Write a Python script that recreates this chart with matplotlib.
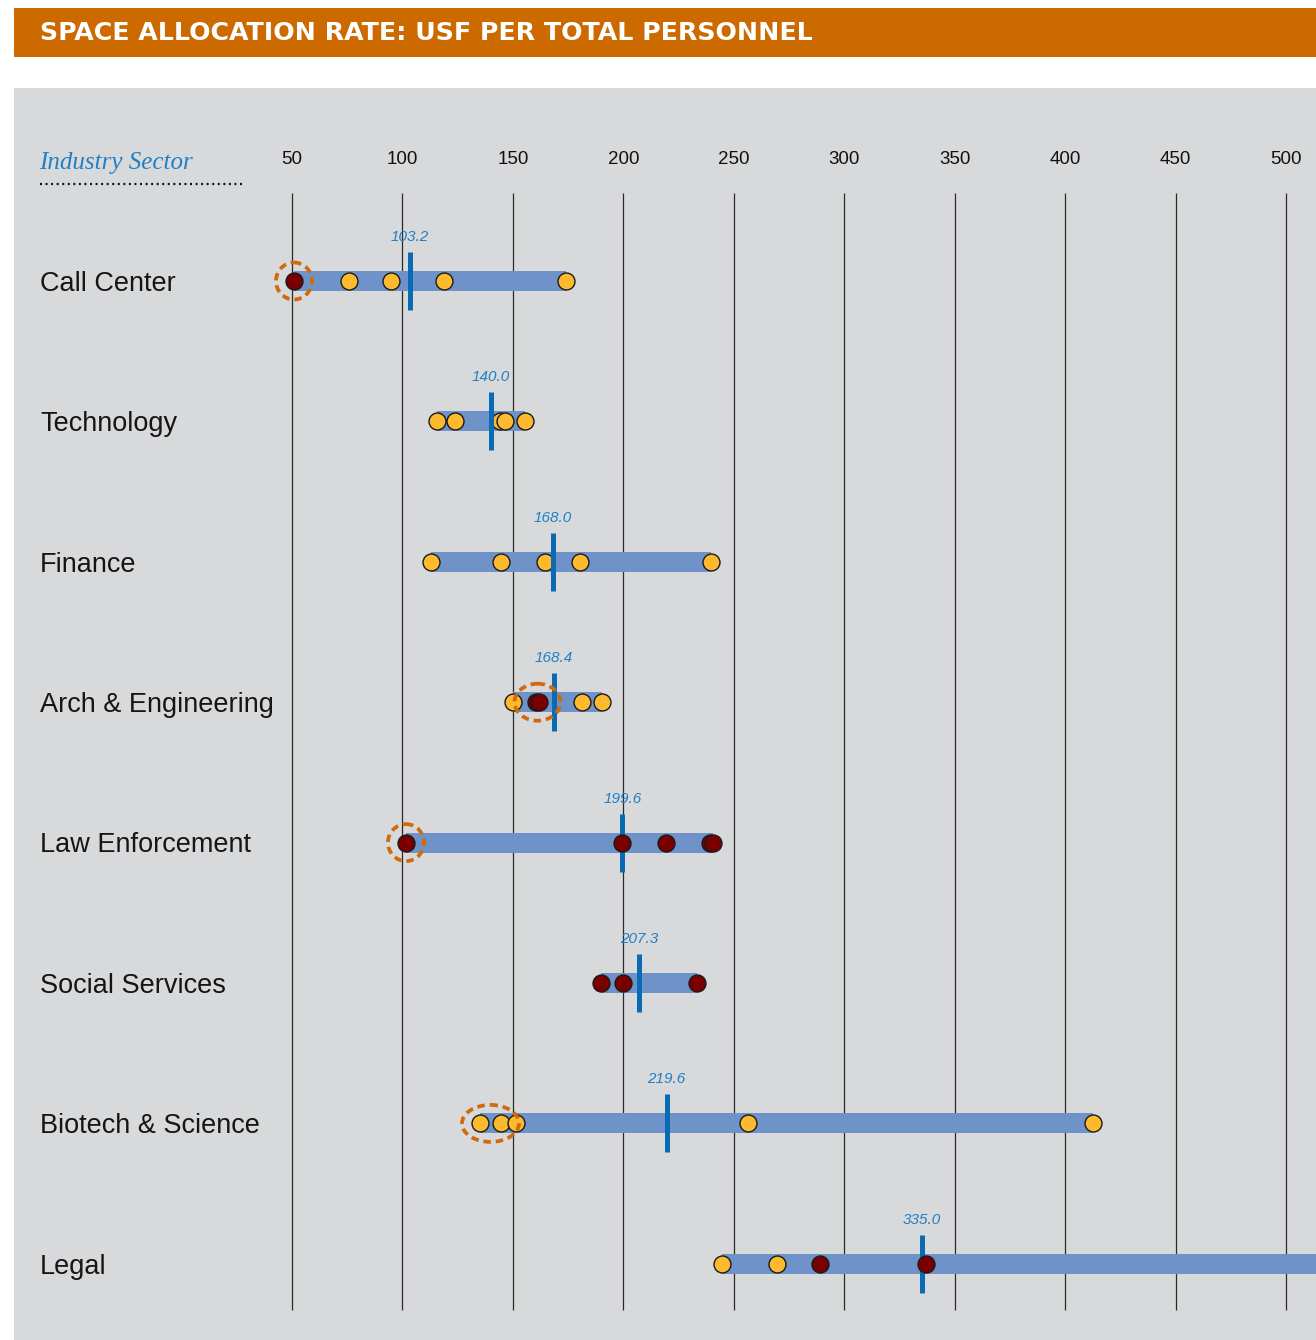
import matplotlib
matplotlib.use("Agg")
import matplotlib.pyplot as plt
import matplotlib.transforms as mtransforms
from matplotlib.patches import Rectangle, Ellipse
from matplotlib.lines import Line2D

# ---- data -------------------------------------------------------------
sectors = ["Call Center", "Technology", "Finance", "Arch & Engineering",
           "Law Enforcement", "Social Services", "Biotech & Science", "Legal"]
medians = [103.2, 140.0, 168.0, 168.4, 199.6, 207.3, 219.6, 335.0]

range_low = [50.9, 115.5, 112.8, 149.9, 101.6, 189.7, 135.1, 244.5]
range_high = [174.0, 155.5, 239.5, 190.2, 240.5, 233.5, 412.6, 560.0]

gold_values = [
    [75.8, 94.8, 118.8, 174.0],
    [115.5, 123.8, 144.2, 146.4, 155.5],
    [112.8, 144.6, 164.5, 180.4, 239.5],
    [149.9, 181.1, 190.2],
    [],
    [],
    [135.1, 144.6, 151.3, 256.3, 412.6],
    [244.5, 269.7],
]
maroon_values = [
    [50.9],
    [],
    [],
    [160.3, 162.0],
    [101.6, 199.5, 219.3, 239.2, 240.5],
    [189.7, 200.0, 233.5],
    [],
    [288.9, 337.0],
]
# groups of outliers ringed with a dashed outline: (row, low value, high value)
ringed = [(0, 50.9, 50.9), (3, 160.3, 162.0), (4, 101.6, 101.6), (6, 135.1, 144.6)]

ticks = [50, 100, 150, 200, 250, 300, 350, 400, 450, 500]

# ---- styling ------------------------------------------------------------
W, H = 1316, 1340
DPI = 100
panel_grey = "#d8d9db"
header_orange = "#cc6a00"
bar_blue = "#6f92c9"
median_blue = "#0a6bb5"
label_blue = "#1f80c6"
gold = "#fdba2e"
maroon = "#7a0000"
ring_orange = "#d06a0c"

fig = plt.figure(figsize=(W / DPI, H / DPI), dpi=DPI)
fig.patch.set_facecolor("white")

# header band
fig.patches.append(Rectangle((14 / W, 1 - 57 / H), (W - 14) / W, 49 / H,
                             transform=fig.transFigure, facecolor=header_orange,
                             edgecolor="none", zorder=0))
fig.text(40 / W, 1 - 33 / H, "SPACE ALLOCATION RATE: USF PER TOTAL PERSONNEL",
         color="white", fontsize=18.2, fontweight="bold", family="DejaVu Sans",
         va="center", ha="left")

# main panel
panel_top, panel_bottom = 88, H
ax = fig.add_axes([14 / W, 0, (W - 14) / W, (panel_bottom - panel_top) / H])
ax.set_facecolor(panel_grey)
for s in ax.spines.values():
    s.set_visible(False)
ax.set_xticks([])
ax.set_yticks([])

px_per_unit = (1286 - 292) / 450.0
x_left = 50 - (292 - 14) / px_per_unit
x_right = 50 + (W - 292) / px_per_unit
row0, row_step = 281.0, 140.4
ax.set_xlim(x_left, x_right)
ax.set_ylim((panel_bottom - row0) / row_step, (panel_top - row0) / row_step)


def px_to_row(py):
    return (py - row0) / row_step


def px_x(px):
    return (px - 14) / (W - 14)


lab_tr = mtransforms.blended_transform_factory(ax.transAxes, ax.transData)

# vertical gridlines and scale labels
ax.vlines(ticks, px_to_row(193), px_to_row(1310), color="#2a2a2a", lw=0.9, zorder=1)
for t in ticks:
    ax.text(t, px_to_row(159), str(t), ha="center", va="center", fontsize=13.5,
            family="Liberation Sans", color="#111111")

# column heading
ax.text(px_x(39), px_to_row(163), "Industry Sector", transform=lab_tr,
        fontsize=18, style="italic", family="Liberation Serif", color=label_blue,
        ha="left", va="center")
ax.add_line(Line2D([px_x(40), px_x(243)], [px_to_row(184)] * 2, transform=lab_tr,
                   color="#111111", lw=1.6, linestyle=(0, (0.9, 1.6))))

for i, name in enumerate(sectors):
    ax.text(px_x(40), i + 0.02, name, transform=lab_tr, fontsize=19.5,
            family="Liberation Sans", color="#151515", ha="left", va="center")

half_median = 29 / row_step
for i in range(len(sectors)):
    # range bar
    ax.plot([range_low[i], range_high[i]], [i, i], color=bar_blue, lw=14.4,
            solid_capstyle="butt", zorder=2)
    # gold observations
    if gold_values[i]:
        ax.plot(gold_values[i], [i] * len(gold_values[i]), "o", ms=12.2,
                mfc=gold, mec="#1a1a1a", mew=1.0, zorder=3)
    # median tick and value
    ax.plot([medians[i], medians[i]], [i - half_median, i + half_median],
            color=median_blue, lw=3.6, solid_capstyle="butt", zorder=4)
    ax.text(medians[i], i - 44 / row_step, f"{medians[i]:.1f}", ha="center",
            va="center", fontsize=11, style="italic", family="Liberation Sans",
            color=label_blue, zorder=6)
    # maroon observations
    if maroon_values[i]:
        ax.plot(maroon_values[i], [i] * len(maroon_values[i]), "o", ms=12.2,
                mfc=maroon, mec="#1a1a1a", mew=1.0, zorder=5)

# dashed rings around outliers
for row, lo, hi in ringed:
    cx = (lo + hi) / 2
    span_px = (hi - lo) * px_per_unit
    w_px = 36.0 + span_px if span_px > 10 else (36.0 if span_px == 0 else 46.0)
    ax.add_patch(Ellipse((cx, row), w_px / px_per_unit, 37.0 / row_step, fill=False,
                         edgecolor=ring_orange, lw=2.7, linestyle=(0, (2.0, 1.3)),
                         zorder=7))

fig.savefig("out.png", dpi=DPI, facecolor=fig.get_facecolor())
